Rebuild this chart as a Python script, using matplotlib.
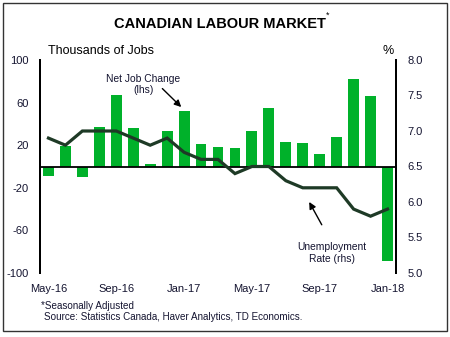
import matplotlib
matplotlib.use("Agg")
import matplotlib.pyplot as plt
from matplotlib.patches import Rectangle
import numpy as np

plt.rcParams['font.family'] = ['Liberation Sans', 'DejaVu Sans']

# monthly data, May-16 .. Jan-18
months = ['May-16', 'Jun-16', 'Jul-16', 'Aug-16', 'Sep-16', 'Oct-16', 'Nov-16',
          'Dec-16', 'Jan-17', 'Feb-17', 'Mar-17', 'Apr-17', 'May-17', 'Jun-17',
          'Jul-17', 'Aug-17', 'Sep-17', 'Oct-17', 'Nov-17', 'Dec-17', 'Jan-18']
job_change = [-9, 19, -10, 37, 67, 36, 2, 33, 52, 21, 18, 17, 33, 55,
              23, 22, 12, 28, 82, 66, -89]
unemp_rate = [6.9, 6.8, 7.0, 7.0, 7.0, 6.9, 6.8, 6.9, 6.7, 6.6, 6.6, 6.4, 6.5, 6.5,
              6.3, 6.2, 6.2, 6.2, 5.9, 5.8, 5.9]
xtick_labels = ['May-16', 'Sep-16', 'Jan-17', 'May-17', 'Sep-17', 'Jan-18']
left_ticks = [-100, -60, -20, 20, 60, 100]
right_ticks = [5.0, 5.5, 6.0, 6.5, 7.0, 7.5, 8.0]

bar_color = '#00B12A'
line_color = '#1E3A26'
txt = '#141430'

fig = plt.figure(figsize=(4.5, 3.37), dpi=100)
ax = fig.add_axes([40/450, 1 - 273/337, 356/450, 213/337])
ax2 = ax.twinx()

x = np.arange(len(months))
ax.bar(x, job_change, width=0.64, color=bar_color, zorder=2)
ax.axhline(0, color='black', lw=1.3, zorder=3)
ax2.plot(x, unemp_rate, color=line_color, lw=2.3, solid_joinstyle='miter', zorder=4)

ax.set_xlim(-0.5, len(months) - 0.5)
ax.set_ylim(-100, 100)
ax2.set_ylim(5.0, 8.0)

ax.set_yticks(left_ticks)
ax.set_yticklabels([str(v) for v in left_ticks])
ax2.set_yticks(right_ticks)
ax2.set_yticklabels(['%.1f' % v for v in right_ticks])
ax.set_xticks([months.index(m) for m in xtick_labels])
ax.set_xticklabels(xtick_labels)

for a in (ax, ax2):
    a.spines['top'].set_visible(False)
    a.spines['bottom'].set_visible(False)
    a.spines['left'].set_linewidth(1.4)
    a.spines['right'].set_linewidth(1.4)
    a.tick_params(length=0, labelsize=8, labelcolor=txt)
ax.tick_params(axis='y', pad=8)
ax2.tick_params(axis='y', pad=8)
ax.tick_params(axis='x', pad=8)

# annotations
ax.text(5.6, 77, 'Net Job Change\n(lhs)', ha='center', va='center',
        fontsize=7.4, color=txt, linespacing=1.2)
ax.annotate('', xy=(7.95, 54), xytext=(6.6, 75),
            arrowprops=dict(arrowstyle='-|>', color='black', lw=1, mutation_scale=10))
ax.text(16.7, -81, 'Unemployment\nRate (rhs)', ha='center', va='center',
        fontsize=7.4, color=txt, linespacing=1.2)
ax.annotate('', xy=(15.3, -31), xytext=(16.2, -57),
            arrowprops=dict(arrowstyle='-|>', color='black', lw=1, mutation_scale=10))

# titles and notes
fig.text(220/450, 1 - 24/337, 'CANADIAN LABOUR MARKET', ha='center', va='center',
         fontsize=10.5, fontweight='bold', color='black')
fig.text(326/450, 1 - 15/337, '*', ha='left', va='center', fontsize=6.5, color='black')
fig.text(48/450, 1 - 51/337, 'Thousands of Jobs', ha='left', va='center',
         fontsize=9, color='black')
fig.text(388/450, 1 - 51/337, '%', ha='center', va='center', fontsize=9, color='black')
fig.text(41/450, 1 - 306/337, '*Seasonally Adjusted', ha='left', va='center',
         fontsize=7.1, color=txt)
fig.text(44/450, 1 - 317.5/337, 'Source: Statistics Canada, Haver Analytics, TD Economics.',
         ha='left', va='center', fontsize=7.1, color=txt)

# outer frame
fig.patches.append(Rectangle((3/450, 1 - 331/337), 444/450, 328/337,
                             transform=fig.transFigure, fill=False,
                             edgecolor='#333333', lw=1))

fig.savefig('out.png', dpi=100)
